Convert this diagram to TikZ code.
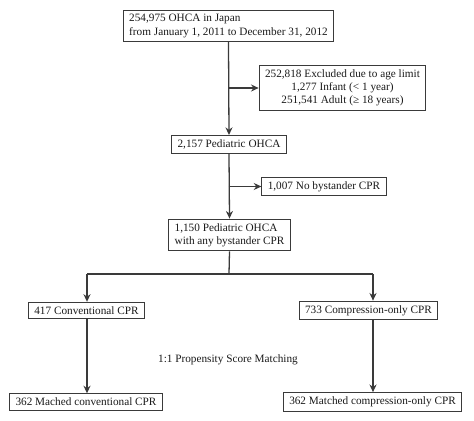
\documentclass[tikz,border=0pt]{standalone}
\usepackage{fontspec}
\setmainfont{Liberation Serif}
\usetikzlibrary{arrows.meta, positioning}
\definecolor{linegray}{HTML}{3A3A3A}
\tikzset{
  box/.style={draw=linegray, line width=0.9pt, inner xsep=5pt, inner ysep=3.6pt, text=black!90, font=\fontsize{9.6}{11.2}\selectfont},
  arr/.style={draw=linegray, line width=1.1pt, -{Stealth[length=6.5pt, width=6pt]}},
  ln/.style={draw=linegray, line width=1.1pt}
}

\begin{document}
\begin{tikzpicture}[x=0.03cm, y=-0.03cm]
\useasboundingbox (0,0) rectangle (474,421);

\node[box, align=left](Total) at (228.5,26) {254,975 OHCA in Japan\\from January 1, 2011 to December 31, 2012};
\node[box, align=center](Excl) at (342.5,88) {252,818 Excluded due to age limit\\1,277 Infant (< 1 year)\\251,541 Adult (≥ 18 years)};
\node[box](Ped) at (229,144.5) {2,157 Pediatric OHCA};
\node[box](NoCPR) at (324,186.5) {1,007 No bystander CPR};
\node[box, align=left](AnyCPR) at (229.5,235) {1,150 Pediatric OHCA\\with any bystander CPR};
\node[box](Conv) at (86.5,310.5) {417 Conventional CPR};
\node[box](Comp) at (368.5,310.5) {733 Compression-only CPR};
\node[box](MConv) at (86,402) {362 Mached conventional CPR};
\node[box](MComp) at (372.5,402) {362 Matched compression-only CPR};
\node[font=\fontsize{9.6}{11.2}\selectfont, text=black!90](PSM) at (228,360) {1:1 Propensity Score Matching};

\coordinate (J1) at (Total.south |- Excl.west);
\coordinate (J2) at (Total.south |- NoCPR.west);
\coordinate (J3) at (229,274);
\coordinate (JL) at (87,274);
\coordinate (JR) at (373,274);

\draw[arr] (Total.south) -- (Ped.north);
\draw[arr] (J1) -- (Excl.west);
\draw[arr] (Ped.south) -- (AnyCPR.north);
\draw[arr] (J2) -- (NoCPR.west);
\draw[ln] (AnyCPR.south) -- (J3);
\draw[ln] (JL) -- (JR);
\draw[arr] (JL) -- (JL |- Conv.north);
\draw[arr] (JR) -- (JR |- Comp.north);
\draw[arr] (Conv.south -| JL) -- (JL |- MConv.north);
\draw[arr] (Comp.south -| JR) -- (JR |- MComp.north);
\end{tikzpicture}
\end{document}
